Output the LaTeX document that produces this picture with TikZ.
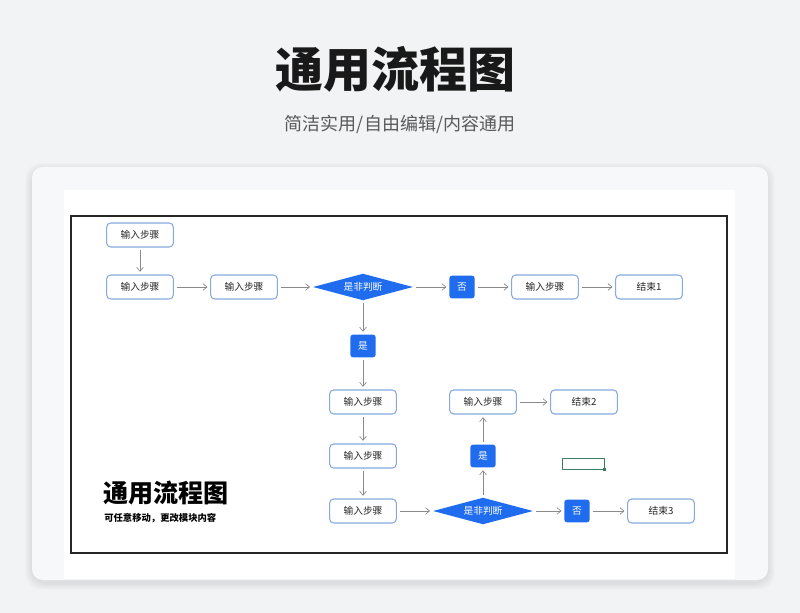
\documentclass[tikz,border=0pt]{standalone}
\usepackage{fontspec}
\newfontfamily\cjk{Noto Sans CJK SC}
\usepackage{tikz}
\usetikzlibrary{arrows.meta, shapes.geometric}
\definecolor{pagebg}{HTML}{F2F3F5}
\definecolor{cardbg}{HTML}{F7F8F9}
\definecolor{stepline}{HTML}{86AAE0}
\definecolor{brand}{HTML}{1F6CEF}
\definecolor{flowline}{HTML}{8A8A8A}
\definecolor{marker}{HTML}{3B7F5E}

\begin{document}
\begin{tikzpicture}[x=0.75pt, y=-0.75pt,
    stepbox/.style={draw=stepline, line width=0.8pt, fill=white, rounded corners=3pt,
      minimum width=50pt, minimum height=18pt, inner sep=0pt,
      font=\cjk\fontsize{7.3}{8}\selectfont, text=black!85},
    judge/.style={diamond, aspect=3.6, fill=brand, text=white, inner sep=0pt,
      minimum width=75pt, minimum height=20pt, font=\cjk\fontsize{7.3}{8}\selectfont},
    tag/.style={fill=brand, rounded corners=2pt, text=white, inner sep=0pt,
      minimum width=19pt, minimum height=17pt, font=\cjk\fontsize{7.3}{8}\selectfont},
    flow/.style={draw=flowline, line width=0.5pt,
      -{Straight Barb[length=3pt, width=5pt]}, shorten <=2pt, shorten >=2pt}]
  \useasboundingbox (0,0) rectangle (800,613);
  \fill[pagebg] (0,0) rectangle (800,613);
  % heading
  \node[font=\cjk\bfseries\fontsize{36}{40}\selectfont, text=black!90] (head) at (395,69) {通用流程图};
  \node[font=\cjk\fontsize{13.5}{16}\selectfont, text=black!65] (subhead) at (400,124) {简洁实用/自由编辑/内容通用};
  % card with soft shadow
  \foreach \s in {1,...,7}
    \fill[black, opacity=0.012, rounded corners=12pt] (32-\s,167-\s+3) rectangle (768+\s,580+\s+3);
  \fill[cardbg, rounded corners=8pt] (32,167) rectangle (768,580);
  \fill[white] (64,190) rectangle (735,579);
  \draw[black!85, line width=0.9pt] (71,216) rectangle (727,553);
  % first row
  \node[stepbox] (s1) at (140,235) {输入步骤};
  \node[stepbox] (s2) at (140,287) {输入步骤};
  \node[stepbox] (s3) at (244,287) {输入步骤};
  \node[judge] (j1) at (363,287) {是非判断};
  \node[tag] (n1) at (462,287) {否};
  \node[stepbox] (s4) at (545,287) {输入步骤};
  \node[stepbox] (e1) at (649,287) {结束1};
  % yes branch
  \node[tag] (y1) at (363,346) {是};
  \node[stepbox] (s5) at (363,402) {输入步骤};
  \node[stepbox] (s6) at (363,456) {输入步骤};
  \node[stepbox] (s7) at (363,511) {输入步骤};
  \node[judge] (j2) at (483,511) {是非判断};
  \node[tag] (y2) at (483,456) {是};
  \node[stepbox] (s8) at (483,402) {输入步骤};
  \node[stepbox] (e2) at (584,402) {结束2};
  \node[tag] (n2) at (577,511) {否};
  \node[stepbox] (e3) at (661,511) {结束3};
  % connectors
  \draw[flow] (s1) -- (s2);
  \draw[flow] (s2) -- (s3);
  \draw[flow] (s3) -- (j1);
  \draw[flow] (j1) -- (n1);
  \draw[flow] (n1) -- (s4);
  \draw[flow] (s4) -- (e1);
  \draw[flow] (j1) -- (y1);
  \draw[flow] (y1) -- (s5);
  \draw[flow] (s5) -- (s6);
  \draw[flow] (s6) -- (s7);
  \draw[flow] (s7) -- (j2);
  \draw[flow] (j2) -- (y2);
  \draw[flow] (y2) -- (s8);
  \draw[flow] (s8) -- (e2);
  \draw[flow] (j2) -- (n2);
  \draw[flow] (n2) -- (e3);
  % selection marker
  \draw[marker, line width=0.7pt] (562,458) rectangle (604,469);
  \fill[marker] (602.5,467.5) rectangle (605.5,470.5);
  % caption inside frame
  \node[anchor=west, inner sep=0pt, font=\cjk\bfseries\fontsize{18.8}{22}\selectfont] (cap) at (103,493) {通用流程图};
  \node[anchor=west, inner sep=0pt, font=\cjk\bfseries\fontsize{7}{8}\selectfont] (capsub) at (104,518) {可任意移动，更改模块内容};
\end{tikzpicture}
\end{document}
